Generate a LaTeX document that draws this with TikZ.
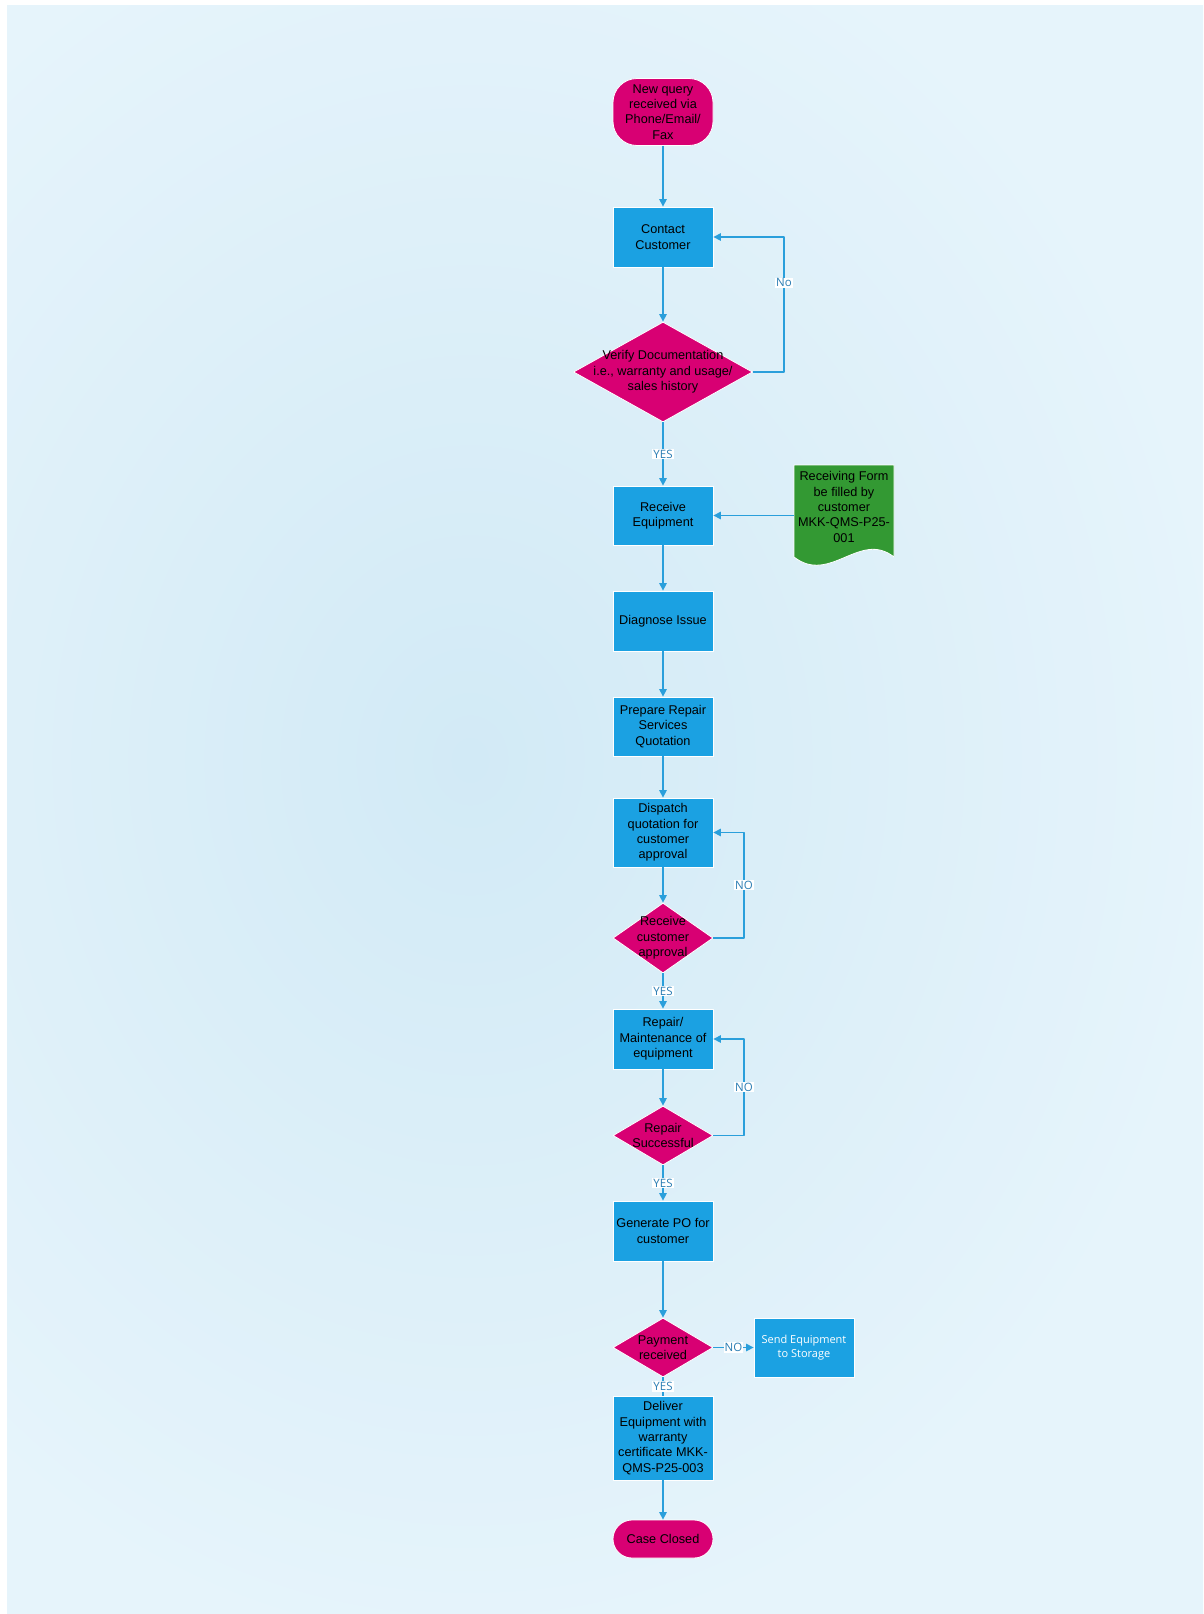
\documentclass[tikz,border=0pt]{standalone}
\usepackage{fontspec}
\setmainfont{Liberation Sans}
\newfontfamily\lblfont{Open Sans}
\usetikzlibrary{shapes.geometric,arrows.meta}
\definecolor{flowblue}{HTML}{1BA1E2}
\definecolor{flowmag}{HTML}{D80073}
\definecolor{flowgreen}{HTML}{339933}
\definecolor{linkblue}{HTML}{2A9FDB}
\definecolor{lbltext}{HTML}{2A7DB3}
\definecolor{bgin}{HTML}{D2EAF6}
\definecolor{bgout}{HTML}{E6F4FB}
\begin{document}
\begin{tikzpicture}[x=1pt,y=-1pt,>={Triangle[length=7.5pt,width=7.5pt]},line join=round,
	shapetxt/.style={inner sep=0pt,align=center,font=\fontsize{12.7}{15.3}\selectfont},
	box/.style={shapetxt,rectangle,fill=flowblue,draw=white,line width=0.8pt,minimum width=100,minimum height=60},
	term/.style={shapetxt,rectangle,fill=flowmag,draw=white,line width=0.8pt,minimum width=100},
	decision/.style={diamond,fill=flowmag,draw=white,line width=0.8pt,inner sep=0pt,minimum width=100,minimum height=59},
	link/.style={draw=linkblue,line width=1.3pt},
	lbl/.style={fill=white,inner sep=1pt,text=lbltext,font=\lblfont\fontsize{11.5}{13}\selectfont}]
	\useasboundingbox (0,0) rectangle (1203,1614);
	% background
	\begin{scope}
		\clip (7,5) rectangle (1203,1614);
		\shade[inner color=bgin,outer color=bgout] (-290,-140) rectangle (1230,1660);
	\end{scope}
	% nodes
	\node[term,rounded corners=24pt,minimum height=67] (start) at (663,112) {New query\\received via\\Phone/Email/\\Fax};
	\node[box] (contact) at (663,237) {Contact\\Customer};
	\node[decision,minimum width=179,minimum height=100] (verify) at (663,372) {};
	\node[shapetxt] (verifytxt) at (verify) {Verify Documentation\\i.e., warranty and usage/\\sales history};
	\node[box,minimum height=59] (recv) at (663,515.5) {Receive\\Equipment};
	\fill[flowgreen,draw=white,line width=0.8pt] (794,465) -- (894,465) -- (894,557) .. controls (860,530) and (830,585) .. (794,557) -- cycle;
	\node[shapetxt,minimum width=100] (form) at (844,507) {Receiving Form\\be filled by\\customer\\MKK-QMS-P25-\\001};
	\node[box] (diag) at (663,621) {Diagnose Issue};
	\node[box,minimum height=59] (prep) at (663,726.5) {Prepare Repair\\Services\\Quotation};
	\node[box,minimum height=69] (disp) at (663,832.5) {Dispatch\\quotation for\\customer\\approval};
	\node[decision,minimum height=70] (approve) at (663,938) {};
	\node[shapetxt] (approvetxt) at (approve) {Receive\\customer\\approval};
	\node[box] (repair) at (663,1039) {Repair/\\Maintenance of\\equipment};
	\node[decision] (success) at (663,1135.5) {};
	\node[shapetxt] (successtxt) at (success) {Repair\\Successful};
	\node[box] (po) at (663,1231) {Generate PO for\\customer};
	\node[decision] (pay) at (663,1347.5) {};
	\node[shapetxt] (paytxt) at (pay) {Payment\\received};
	\node[box,minimum height=59,text=white,font=\lblfont\fontsize{11}{14.3}\selectfont] (storage) at (804,1347.5) {Send Equipment\\to Storage};
	\node[box,minimum height=84] (deliver) at (663,1438) {Deliver\\Equipment with\\warranty\\certificate MKK-\\QMS-P25-003};
	\node[term,rounded corners=19pt,minimum height=38] (closed) at (663,1539) {Case Closed};
	% connectors
	\foreach \a/\b in {start/contact,contact/verify,recv/diag,diag/prep,prep/disp,disp/approve,repair/success,po/pay,deliver/closed}
		\draw[link,->] (\a.south) -- (\b.north);
	\draw[link,->] (verify.south) -- node[lbl] (yes1) {YES} (recv.north);
	\draw[link,->] (verify.east) -- ++(31,0) |- node[lbl,pos=0.33] (no1) {No} (contact.east);
	\draw[link,->] (form.west |- recv.east) -- (recv.east);
	\draw[link,->] (approve.south) -- node[lbl] (yes2) {YES} (repair.north);
	\draw[link,->] (approve.east) -- ++(30.5,0) |- node[lbl,pos=0.25] (no2) {NO} (disp.east);
	\draw[link,->] (success.south) -- node[lbl] (yes3) {YES} (po.north);
	\draw[link,->] (success.east) -- ++(30.5,0) |- node[lbl,pos=0.25] (no3) {NO} (repair.east);
	\draw[link,->] (pay.east) -- node[lbl] (no4) {NO} (storage.west);
	\draw[link] (pay.south) -- node[lbl] (yes4) {YES} (deliver.north);
\end{tikzpicture}
\end{document}
